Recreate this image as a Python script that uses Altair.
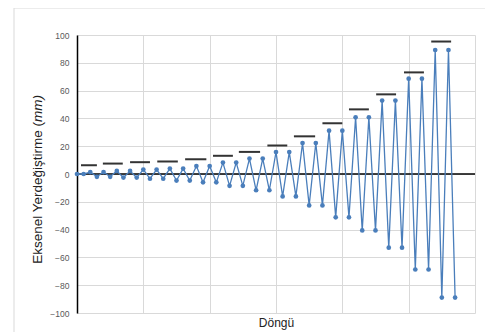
import altair as alt
import pandas as pd

# Displacement values (mm), one per loading point
displacement = [
    0, 0,
    1.4, -2.0, 1.4, -2.0,
    2.2, -2.6, 2.2, -2.6,
    3.2, -3.4, 3.2, -3.4,
    3.9, -4.7, 3.9, -4.7,
    5.7, -6.0, 5.7, -6.0,
    8.2, -8.5, 8.2, -8.5,
    11.1, -11.7, 11.1, -11.7,
    15.8, -16.1, 15.8, -16.1,
    22.3, -22.6, 22.3, -22.6,
    31.2, -31.2, 31.2, -31.2,
    40.8, -40.6, 40.8, -40.6,
    52.8, -53.0, 52.8, -53.0,
    68.6, -68.7, 68.6, -68.7,
    89.2, -88.9, 89.2, -88.9,
]
cycle_index = list(range(len(displacement)))

# Target level markers (black dashes above each amplitude group)
target_start = [0.6, 3.9, 8.0, 12.1, 16.3, 20.5, 24.4, 28.7, 32.7, 37.0, 41.0, 45.1, 49.3, 53.4]
target_end = [3.0, 6.9, 11.0, 15.2, 19.5, 23.5, 27.6, 31.7, 35.9, 40.0, 44.0, 48.1, 52.3, 56.4]
target_level = [6.3, 7.5, 8.5, 9.0, 10.6, 13.1, 15.9, 20.5, 27.1, 36.5, 46.5, 57.3, 73.1, 95.3]

y_ticks = list(range(-100, 101, 20))
x_ticks = list(range(0, 61, 10))

df = pd.DataFrame({"i": cycle_index, "d": displacement})
dash_df = pd.DataFrame({"x1": target_start, "x2": target_end, "y": target_level})
one = pd.DataFrame({"a": [0]})

FONT = "Liberation Sans"
BLUE = "#4A7EBB"

xscale = alt.Scale(domain=[0, 60], nice=False, zero=False)
yscale = alt.Scale(domain=[-100, 100], nice=False)

x_axis = alt.Axis(values=x_ticks, grid=True, gridColor="#d9d9d9", labels=False, ticks=False,
                  domain=False, title="Döngü", titleFont=FONT, titleFontSize=12,
                  titleFontWeight="normal", titleColor="#222222", titlePadding=4)
y_axis = alt.Axis(values=y_ticks, grid=True, gridColor="#d9d9d9", ticks=False,
                  domain=True, domainColor="#000000", domainWidth=1.5,
                  labelFont=FONT, labelFontSize=8.5, labelColor="#595959", labelPadding=8,
                  labelOverlap=False, tickCount=11, title=None)

line = alt.Chart(df).mark_line(color=BLUE, strokeWidth=1.3).encode(
    x=alt.X("i:Q", scale=xscale, axis=x_axis),
    y=alt.Y("d:Q", scale=yscale, axis=y_axis),
)
points = alt.Chart(df).mark_circle(color=BLUE, size=22, opacity=1).encode(
    x=alt.X("i:Q", scale=xscale, axis=x_axis),
    y=alt.Y("d:Q", scale=yscale, axis=y_axis),
)
zero_line = alt.Chart(one).mark_rule(color="#000000", strokeWidth=1.5).encode(
    y=alt.datum(0, scale=yscale, axis=y_axis)
)
dashes = alt.Chart(dash_df).mark_rule(color="#333333", strokeWidth=2).encode(
    x=alt.X("x1:Q", scale=xscale, axis=x_axis),
    x2="x2:Q",
    y=alt.Y("y:Q", scale=yscale, axis=y_axis),
)

title_a = alt.Chart(one).mark_text(
    angle=270, align="right", baseline="middle", font=FONT, fontSize=13.5, color="#222222"
).encode(x=alt.value(-39), y=alt.value(87), text=alt.value("Eksenel  Yerdeğiştirme ("))
title_b = alt.Chart(one).mark_text(
    angle=270, align="left", baseline="middle", font=FONT, fontSize=13.5, color="#222222",
    fontStyle="italic"
).encode(x=alt.value(-39), y=alt.value(87), text=alt.value("mm)"))

frame_left = alt.Chart(one).mark_rule(color="#d9d9d9", strokeWidth=1).encode(
    x=alt.value(-63), y=alt.value(-27), y2=alt.value(310))
frame_top = alt.Chart(one).mark_rule(color="#d9d9d9", strokeWidth=1).encode(
    x=alt.value(-63), x2=alt.value(420), y=alt.value(-27))

chart = alt.layer(
    frame_left, frame_top, zero_line, line, points, dashes, title_a, title_b
).properties(
    width=398, height=278,
    autosize=alt.AutoSizeParams(type="none"),
    padding={"left": 69, "top": 27, "right": 10, "bottom": 19},
).configure_view(strokeWidth=0)

chart.save("out.html", embed_options={"renderer": "svg", "actions": False})
